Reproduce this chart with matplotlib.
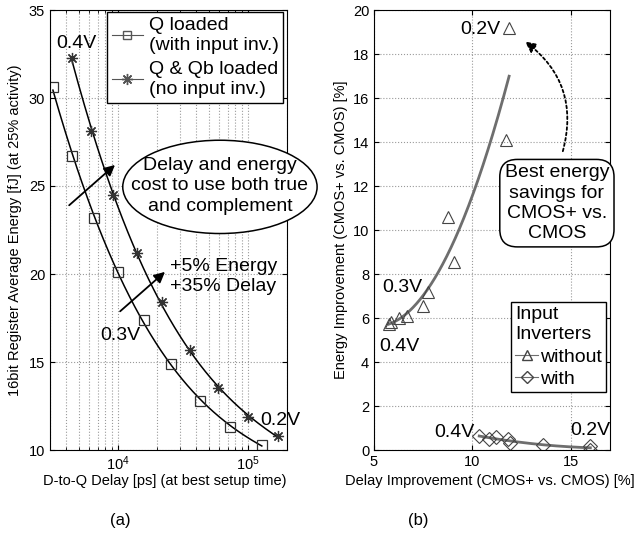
import numpy as np
import matplotlib
matplotlib.use("Agg")
import matplotlib.pyplot as plt
from matplotlib.patches import Ellipse
import matplotlib.ticker as ticker

plt.rcParams['font.family'] = ['Liberation Sans', 'DejaVu Sans']

# (a) D-to-Q delay [ps] vs. energy [fJ]
q_delay = [3160, 4430, 6540, 10000, 15850, 25600, 42700, 72700, 128000]
q_energy = [30.6, 26.7, 23.2, 20.1, 17.4, 14.9, 12.8, 11.3, 10.3]
qb_delay = [4430, 6200, 9160, 14000, 21800, 35800, 58800, 100000, 170000]
qb_energy = [32.3, 28.1, 24.5, 21.2, 18.4, 15.7, 13.5, 11.9, 10.8]

# (b) delay improvement vs. energy improvement [%]
wo_delay = [5.75, 5.85, 6.26, 6.67, 7.47, 7.73, 9.09, 8.74, 11.72, 11.87]
wo_energy = [5.75, 5.8, 6.0, 6.1, 6.55, 7.18, 8.55, 10.6, 14.1, 19.2]
w_delay = [10.35, 10.86, 11.2, 11.8, 11.9, 13.6, 16.0, 16.0]
w_energy = [0.64, 0.5, 0.59, 0.5, 0.3, 0.25, 0.18, 0.02]

W, H = 642, 539
FS = 14  # annotation / legend font
LS = 1.25
fig = plt.figure(figsize=(W / 100, H / 100), dpi=100)


def box(x0, y0, x1, y1):
    return (x0 / W, 1 - y1 / H, (x1 - x0) / W, (y1 - y0) / H)


gridkw = dict(color='#9a9a9a', linestyle=':', linewidth=0.8)

# ---- panel (a) ----
ax1 = fig.add_axes(box(50, 10, 287, 450))
ax1.set_xscale('log')
ax1.set_xlim(3000, 2e5)
ax1.set_ylim(10, 35)
ax1.set_yticks(np.arange(10, 36, 5))

# smooth fit in log-delay space
for dl, en, mk, ms in [(q_delay, q_energy, 's', 6.5),
                       (qb_delay, qb_energy, (8, 2, 0), 8)]:
    lx = np.log10(dl)
    p = np.polyfit(lx, en, 3)
    xs = np.linspace(lx[0], lx[-1], 200)
    ax1.plot(10 ** xs, np.polyval(p, xs), color='k', lw=1.1)
    ax1.plot(dl, en, linestyle='none', marker=mk, ms=ms, mfc='none',
             mec='#333333', mew=0.9)

# legend handles
h1, = ax1.plot([], [], color='#555555', lw=0.8, marker='s', ms=6, mfc='none',
               mec='#555555')
h2, = ax1.plot([], [], color='#555555', lw=0.8, marker=(8, 2, 0), ms=8,
               mec='#555555')
leg = ax1.legend([h1, h2], ["Q loaded\n(with input inv.)",
                            "Q & Qb loaded\n(no input inv.)"],
                 loc='upper right', bbox_to_anchor=(0.985, 0.995),
                 fancybox=False, framealpha=1, edgecolor='k', fontsize=FS,
                 handlelength=1.6, handletextpad=0.3, borderpad=0.25,
                 labelspacing=0.35, borderaxespad=0)
for t in leg.get_texts():
    t.set_linespacing(LS)
leg.get_frame().set_linewidth(1.0)

ax1.grid(True, which='major', **gridkw)
ax1.grid(True, which='minor', axis='x', **gridkw)
ax1.tick_params(which='both', direction='in', top=True, right=True,
                labelsize=10.5)
ax1.set_xlabel("D-to-Q Delay [ps] (at best setup time)", fontsize=10.5)
ax1.set_ylabel("16bit Register Average Energy [fJ] (at 25% activity)",
               fontsize=10.5)
ax1.xaxis.set_label_coords(0.485, -0.055)
ax1.yaxis.set_label_coords(-0.12, 0.5)

ax1.text(0.11, 0.923, "0.4V", transform=ax1.transAxes, fontsize=FS,
         ha='center', va='center')
ax1.text(0.295, 0.261, "0.3V", transform=ax1.transAxes, fontsize=FS,
         ha='center', va='center')
ax1.text(0.97, 0.068, "0.2V", transform=ax1.transAxes, fontsize=FS,
         ha='center', va='center', clip_on=False)
ell = Ellipse((0.717, 0.598), 0.82, 0.212, transform=ax1.transAxes,
              facecolor='white', edgecolor='k', lw=1.1, clip_on=False,
              zorder=5)
ax1.add_patch(ell)
ax1.text(0.717, 0.60, "Delay and energy\ncost to use both true\nand complement",
         transform=ax1.transAxes, fontsize=FS, ha='center', va='center',
         linespacing=LS, zorder=6)
ax1.text(0.506, 0.395, "+5% Energy\n+35% Delay", transform=ax1.transAxes,
         fontsize=FS, ha='left', va='center', linespacing=LS)
arrkw = dict(arrowstyle='-|>', color='k', lw=1.3, mutation_scale=16)
ax1.annotate("", xy=(0.283, 0.652), xytext=(0.072, 0.552),
             xycoords='axes fraction', arrowprops=arrkw)
ax1.annotate("", xy=(0.494, 0.409), xytext=(0.287, 0.311),
             xycoords='axes fraction', arrowprops=arrkw)

# ---- panel (b) ----
ax2 = fig.add_axes(box(374, 10, 610, 450))
ax2.set_xlim(5, 17)
ax2.set_ylim(0, 20)
ax2.set_xticks([5, 10, 15])
ax2.set_yticks(np.arange(0, 21, 2))

gray = '#6e6e6e'
for dl, en, mk, ms in [(wo_delay, wo_energy, '^', 8.5),
                       (w_delay, w_energy, 'D', 7)]:
    p = np.polyfit(dl, en, 2)
    xs = np.linspace(min(dl), max(dl), 200)
    ax2.plot(xs, np.polyval(p, xs), color=gray, lw=2)
    ax2.plot(dl, en, linestyle='none', marker=mk, ms=ms, mfc='none',
             mec='#444444', mew=0.8)

h3, = ax2.plot([], [], color=gray, lw=0.8, marker='^', ms=7, mfc='none',
               mec='#444444')
h4, = ax2.plot([], [], color=gray, lw=0.8, marker='D', ms=6, mfc='none',
               mec='#444444')
leg2 = ax2.legend([h3, h4], ["without", "with"], title="Input\nInverters",
                  loc='upper right', bbox_to_anchor=(0.983, 0.336),
                  fancybox=False, framealpha=1, edgecolor='k', fontsize=FS,
                  title_fontsize=FS, handlelength=1.2, handletextpad=0.1,
                  borderpad=0.2, labelspacing=0.25, borderaxespad=0,
                  alignment='left')
leg2.get_title().set_linespacing(LS)
leg2.get_frame().set_linewidth(1.0)

ax2.grid(True, **gridkw)
ax2.tick_params(direction='in', top=True, right=True, labelsize=10.5)
ax2.set_xlabel("Delay Improvement (CMOS+ vs. CMOS) [%]", fontsize=10.5)
ax2.set_ylabel("Energy Improvement (CMOS+ vs. CMOS) [%]", fontsize=10.5)
ax2.xaxis.set_label_coords(0.49, -0.055)
ax2.yaxis.set_label_coords(-0.11, 0.5)

for x, y, s in [(0.449, 0.955, "0.2V"), (0.119, 0.370, "0.3V"),
                (0.106, 0.236, "0.4V"), (0.339, 0.039, "0.4V"),
                (0.915, 0.045, "0.2V")]:
    ax2.text(x, y, s, transform=ax2.transAxes, fontsize=FS, ha='center',
             va='center', clip_on=False)

ax2.text(0.775, 0.561, "Best energy\nsavings for\nCMOS+ vs.\nCMOS",
         transform=ax2.transAxes, fontsize=FS, ha='center', va='center',
         linespacing=LS, zorder=6,
         bbox=dict(boxstyle='round,pad=0.25,rounding_size=0.9', fc='white',
                   ec='k', lw=1.1))
ax2.annotate("", xy=(0.631, 0.932), xytext=(0.797, 0.673),
             xycoords='axes fraction',
             arrowprops=dict(arrowstyle='-|>', color='k', lw=1.3,
                             linestyle=(0, (1.5, 1.5)), mutation_scale=16,
                             connectionstyle='arc3,rad=0.35'))

fig.text(120 / W, 1 - 520 / H, "(a)", fontsize=12, ha='center', va='center')
fig.text(418 / W, 1 - 520 / H, "(b)", fontsize=12, ha='center', va='center')

fig.savefig("out.png", dpi=100)
